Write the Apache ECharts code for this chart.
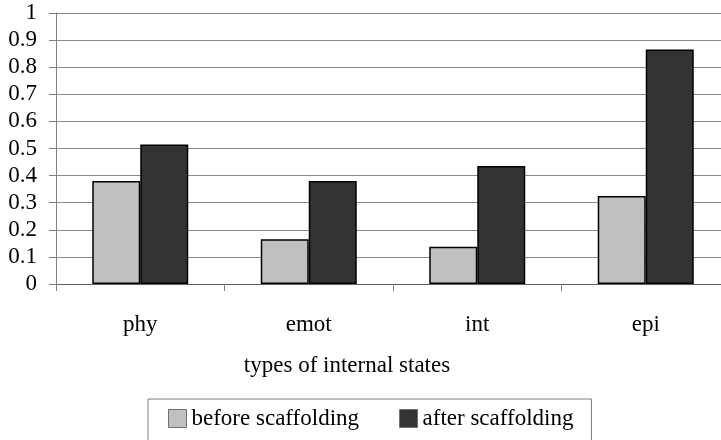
<!DOCTYPE html>
<html>
<head>
<meta charset="utf-8">
<script src="https://cdn.jsdelivr.net/npm/echarts@6/dist/echarts.min.js"></script>
<style>html,body{margin:0;padding:0;background:#fff;}#c{width:721px;height:440px;}</style>
</head>
<body>
<div id="c"></div>
<script>
const categories = ['phy', 'emot', 'int', 'epi'];
const beforeValues = [0.38, 0.165, 0.137, 0.325];
const afterValues = [0.515, 0.38, 0.435, 0.865];
const seriesNames = ['before scaffolding', 'after scaffolding'];
const xAxisTitle = 'types of internal states';

const FONT = "'Liberation Serif', 'Times New Roman', serif";
const chart = echarts.init(document.getElementById('c'), null, {renderer: 'canvas'});
chart.setOption({
  animation: false,
  backgroundColor: '#ffffff',
  textStyle: {fontFamily: FONT},
  grid: {left: 56, top: 13, width: 674, bottom: 156, containLabel: false, outerBoundsMode: 'none'},
  legend: {
    data: seriesNames,
    left: 148, top: 399,
    orient: 'horizontal',
    itemWidth: 18, itemHeight: 18, itemGap: 40,
    padding: [8, 18, 24, 20],
    borderColor: '#808080', borderWidth: 1,
    textStyle: {fontFamily: FONT, fontSize: 23, color: '#000'},
    itemStyle: {borderColor: '#707070', borderWidth: 1},
    icon: 'rect'
  },
  graphic: [{
    type: 'text', x: 347, y: 366,
    style: {text: xAxisTitle, font: "23px 'Liberation Serif', 'Times New Roman', serif", fill: '#000', textAlign: 'center', textVerticalAlign: 'middle'}
  }],
  xAxis: {
    type: 'category', data: categories,
    axisLine: {show: true, lineStyle: {color: '#606060', width: 1}},
    axisTick: {show: true, length: 7, lineStyle: {color: '#808080'}},
    axisLabel: {fontFamily: FONT, fontSize: 23, color: '#000', margin: 29}
  },
  yAxis: {
    type: 'value', min: 0, max: 1, interval: 0.1,
    axisLine: {show: true, lineStyle: {color: '#808080', width: 1}},
    axisTick: {show: true, length: 7, lineStyle: {color: '#808080'}},
    axisLabel: {fontFamily: FONT, fontSize: 23, color: '#000', margin: 19,
      formatter: v => (Math.round(v * 10) / 10).toString()},
    splitLine: {show: true, lineStyle: {color: '#8a8a8a', width: 1}}
  },
  series: [
    {name: seriesNames[0], type: 'bar', data: beforeValues, barWidth: 48, barGap: '0%',
      itemStyle: {color: '#c0c0c0', borderColor: '#000', borderWidth: 1.5}},
    {name: seriesNames[1], type: 'bar', data: afterValues, barWidth: 48, barGap: '0%',
      itemStyle: {color: '#333333', borderColor: '#000', borderWidth: 1.5}}
  ]
});
</script>
</body>
</html>
